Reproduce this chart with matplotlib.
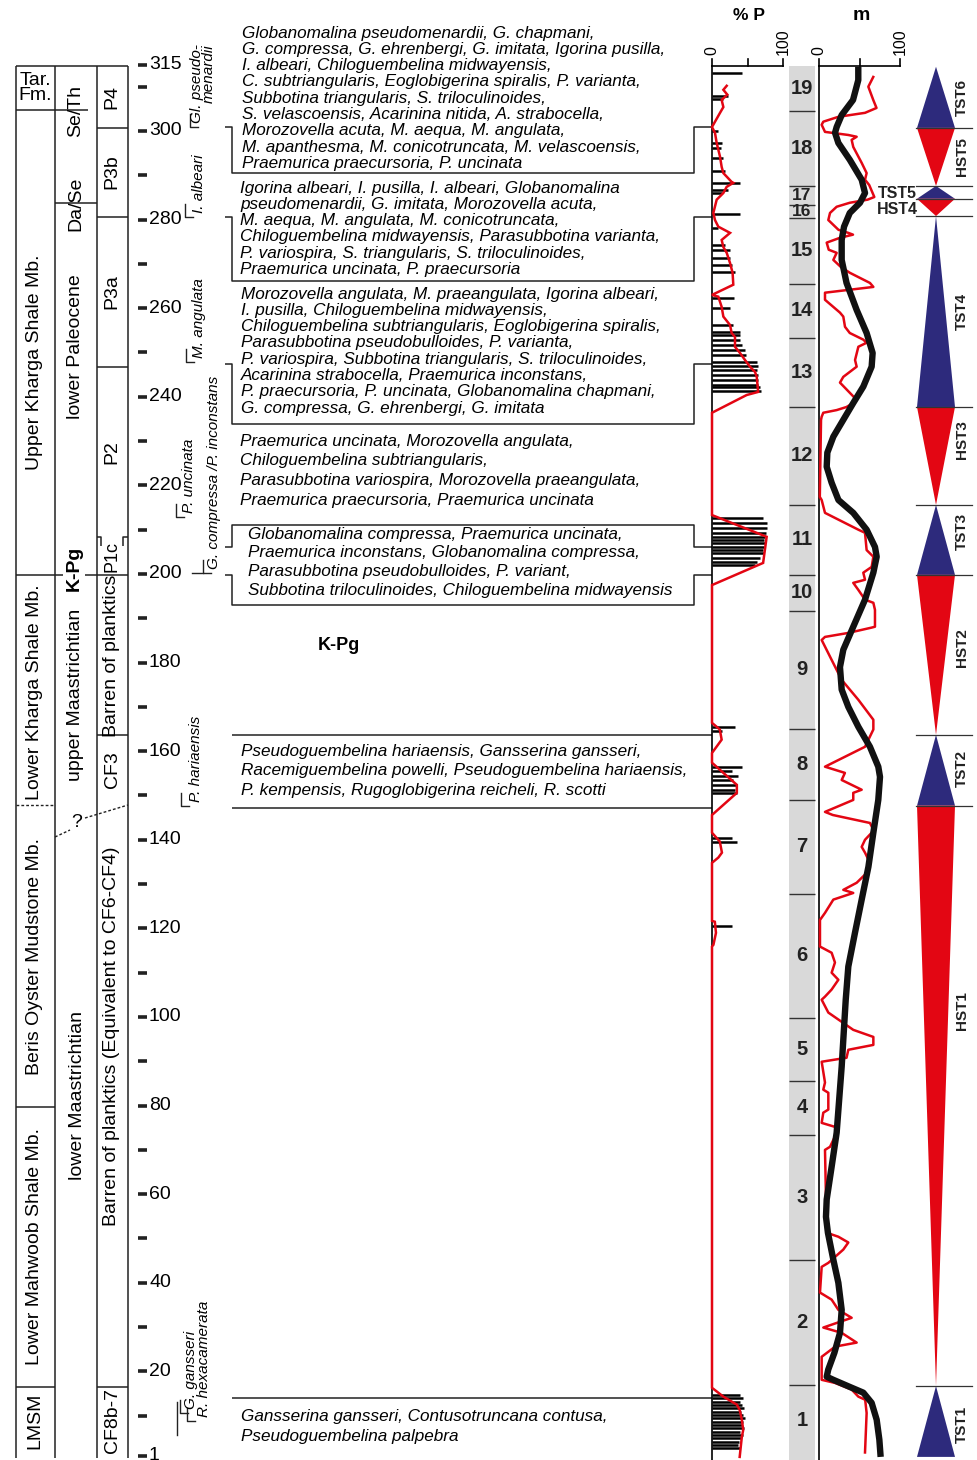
import numpy as np
import matplotlib.pyplot as plt

plt.rcParams['font.family'] = ['Liberation Sans', 'DejaVu Sans']

# vertical scale: metres above the base of the section
TOP = 329.57


def ypx(p):
    # layout helper: page row (from top) -> section height
    return TOP - p / 4.43


# ---- % planktics -------------------------------------------------------
p_bar_depth = [313.1, 307.9, 307.3, 300.0, 297.3, 296.2, 293.9, 291.0, 288.3, 286.7, 286.0,
               281.3, 278.1, 274.3, 273.2, 271.4, 269.8, 268.2, 262.3, 260.1, 256.2, 254.7,
               254.0, 252.9, 251.7, 250.6, 249.5, 247.9, 247.0, 246.1, 245.0, 243.8, 242.7,
               242.1, 241.4,
               212.7, 211.5, 210.4, 209.3, 208.4, 207.7, 207.0, 206.1, 205.4, 204.7, 203.6,
               202.7, 202.1,
               165.5, 164.6, 156.5, 155.6, 154.4, 153.5, 152.4, 151.3, 150.6,
               140.5, 139.6, 120.6,
               14.7, 14.0, 13.1, 12.5, 11.8, 10.9, 10.2, 9.5, 8.6, 7.9, 7.3, 6.4, 5.7, 5.0,
               4.1, 3.4, 2.8]
p_bar_val = [42, 22, 16, 9, 14, 12, 16, 19, 40, 23, 14,
             40, 9, 19, 26, 25, 28, 33, 31, 26, 30, 39,
             40, 40, 42, 47, 48, 63, 65, 63, 65, 65, 65,
             68, 69,
             72, 78, 77, 76, 75, 73, 75, 73, 72, 73, 68,
             63, 60,
             32, 14, 42, 28, 37, 30, 35, 33, 35,
             28, 35, 28,
             40, 44, 39, 42, 45, 41, 43, 46, 44, 42, 45, 40, 43, 41,
             38, 36, 39]

p_curve_depth = [310.2, 309.3, 308.2, 307.0, 305.4, 304.1, 300.9, 299.6, 297.3, 294.2, 291.9,
                 290.5, 288.5, 288.3, 287.4, 286.0, 284.5, 281.5, 279.9, 278.4, 277.0, 275.4,
                 273.8, 272.5, 270.2, 268.0, 265.3, 263.0, 262.6, 260.3, 258.1, 256.2, 254.4,
                 253.5, 251.3, 249.9, 248.3, 246.8, 245.6, 244.5, 241.1, 240.4, 236.4,
                 213.3, 208.4, 202.5, 197.5, 166.4, 164.9, 162.6, 159.6, 157.4, 152.4, 150.6,
                 145.6, 141.6, 139.6, 137.1, 136.0, 134.8, 121.7, 121.5, 119.0, 116.3, 115.9,
                 16.3, 14.3, 12.5, 11.3, 9.1, 6.8, 5.2, 0.7]
p_curve_val = [20.7, 16, 21.6, 13.6, 16, 11.3, 0, 4.2, 6.6, 11.3, 13.6,
               16, 27.7, 30, 20.7, 16, 6.6, 1.9, 4.2, 8.9, 25.4, 13.6,
               16, 20.7, 25.4, 29, 30, 0, 8.9, 13.6, 16, 25.4, 27.7,
               32.4, 32.4, 39.4, 46.5, 53.5, 60.6, 63, 65, 48.8, 0,
               0, 77, 72, 0, 0, 11, 13.6, 0, 0, 35, 35,
               0, 0, 11, 14, 9, 0, 0, 4, 5.6, 2, 0,
               0, 16, 35, 39, 42, 44, 42, 39]

# ---- m curve (red) and its trend (black) --------------------------------
m_depth = [312.2, 310.0, 307.0, 305.2, 304.1, 303.2, 302.1, 301.4, 299.8, 299.1, 298.7, 298.0,
           296.4, 292.8, 290.5, 289.0, 287.8, 285.1, 284.5, 283.8, 282.9, 281.5, 279.9, 277.7,
           277.0, 276.6, 275.9, 274.8, 273.2, 272.5, 270.9, 269.3, 268.0, 265.7, 264.8, 263.5,
           261.9, 260.3, 259.0, 258.1, 255.8, 254.4, 252.9, 252.2, 251.3, 248.3, 246.8, 244.5,
           243.2, 240.9, 239.3, 238.6, 237.7, 237.0, 236.4, 235.5, 234.8, 217.4,
           216.7, 213.8, 210.0, 209.3, 205.4, 203.9, 201.6, 200.3, 198.7, 198.0, 196.4, 194.2,
           193.5, 191.9, 188.1, 187.9, 186.7, 185.8, 185.1, 183.6, 176.1, 171.6, 167.1, 164.9,
           161.0, 156.5, 155.1, 153.5, 151.3, 150.6, 149.0, 146.3, 145.6, 143.8, 142.3, 141.6,
           140.0, 138.4, 137.1, 134.8, 132.5, 130.3, 128.7, 128.0, 126.5, 123.5, 121.9, 115.9,
           114.5, 112.3, 110.0, 108.4, 106.2, 104.6, 103.9, 101.0, 97.1, 95.5, 93.7, 92.6,
           90.8, 89.9, 85.2, 83.6, 82.9, 79.1, 78.4, 76.1, 75.2, 74.6, 70.7, 70.0, 51.3,
           50.4, 49.1, 47.5, 44.5, 43.6, 37.8, 36.2, 33.9, 32.1, 29.9, 28.7, 26.5, 25.6,
           23.3, 18.1, 17.4, 15.9, 14.3, 13.6, 10.6, 1.7]
m_val = [67, 60.9, 67, 71, 56.8, 23.9, 5.3, 3.3, 7.4, 36.2, 46.5, 40.3,
         42.3, 52.7, 58.8, 56.8, 62, 68.3, 60, 38, 21.8, 13.6, 11.5, 24,
         36.2, 42, 26, 9.5, 12, 21.8, 17.7, 27, 38, 62.9, 67.1, 7.4,
         7.4, 17.7, 25.9, 30, 32.1, 38, 54.7, 58.8, 48.6, 44.5, 46.5, 30,
         25.9, 38, 46.5, 42.3, 34, 21.8, 5.3, 3.3, 2.5, 1,
         3.3, 7.4, 48.6, 56.8, 58.8, 67.1, 65, 54.7, 56.8, 42.3, 48.6, 56.8,
         67.1, 69.1, 69.1, 65, 36.2, 7.4, 3.3, 7.4, 28, 48.6, 67.1, 67.1,
         56.8, 7.4, 32, 28, 52.7, 42.3, 42.3, 7.4, 17, 62.9, 67, 65,
         56.8, 52.7, 56.8, 62.9, 58.8, 46.5, 30, 42.3, 17.7, 7.4, 1.2, 1.2,
         15.6, 19.7, 15.6, 23.9, 15.6, 7.4, 3.3, 11.5, 42.3, 67.1, 67.1, 36.2,
         34, 3.3, 7.4, 5.3, 11.5, 11.5, 5.3, 3.3, 19.7, 23.9, 13.6, 7.4, 9.5,
         23.9, 36.2, 30, 11.5, 3.3, 1.2, 15.6, 23.9, 40.3, 5.3, 28, 46.5, 20,
         3.3, 3.3, 19.7, 40.3, 48.6, 57, 58.8, 56.8]

trend_depth = [314.5, 311.5, 307.0, 303.6, 300.9, 299.6, 297.3, 293.5, 289.0, 286.0, 283.8,
               281.5, 278.4, 275.4, 270.9, 265.7, 259.6, 254.4, 249.9, 246.8, 242.3, 238.6,
               234.8, 231.0, 227.4, 224.2, 220.6, 216.7, 213.8, 210.0, 206.1, 203.9, 200.3,
               194.2, 188.1, 182.9, 179.0, 173.9, 170.0, 165.5, 161.0, 156.5, 154.2, 149.0,
               141.6, 133.9, 126.5, 119.0, 111.4, 103.9, 88.8, 73.9, 66.2, 58.8, 54.9, 51.3,
               45.2, 40.0, 33.9, 28.7, 24.2, 20.4, 18.8, 18.1, 16.5, 15.2, 12.9, 9.1, 4.6, 0.7]
trend_val = [48.5, 48.5, 42, 28, 21.8, 19.8, 23.9, 38, 52.7, 56.8, 50.6,
             38, 30.9, 28, 28, 34, 46.5, 58.8, 66.2, 65, 54.7, 42.3,
             30, 17.7, 10.3, 9.5, 15.6, 24, 42.3, 58.8, 69.1, 71.2, 67.1,
             56.8, 42.3, 30, 25.9, 28, 36.2, 48.6, 62.9, 73.2, 75.3, 73.2,
             67.1, 61, 52.7, 44.4, 36.2, 33, 28, 21.8, 15.6, 9.5, 8.6, 11,
             17.7, 23.9, 28, 25.9, 19, 11.4, 9.5, 17.7, 38, 54.7, 65, 71.2, 74.5, 76.1]

# ---- lithological units 19..1 ------------------------------------------
unit_bounds = [314.7, 304.5, 287.6, 283.3, 280.4, 265.5, 253.3, 237.7, 215.6, 199.8, 191.7,
               165.1, 149.0, 127.8, 99.8, 85.6, 73.4, 45.2, 17.0, 0.7]
unit_names = ['19', '18', '17', '16', '15', '14', '13', '12', '11', '10', '9', '8', '7', '6',
              '5', '4', '3', '2', '1']

# ---- systems tracts ------------------------------------------------------
tract_names = ['TST6', 'HST5', 'TST5', 'HST4', 'TST4', 'HST3', 'TST3', 'HST2', 'TST2', 'HST1', 'TST1']
tract_top = [314.5, 300.7, 287.6, 284.7, 280.8, 237.7, 215.6, 199.8, 163.7, 147.7, 16.7]
tract_base = [300.7, 287.6, 284.7, 280.8, 237.7, 215.6, 199.8, 163.7, 147.7, 16.7, 0.7]
tract_label_y = [307.6, 294.2, 286.0, 282.3, 259.2, 230.4, 209.5, 183.3, 156.0, 101.5, 8.0]

depth_major = [315, 300, 280, 260, 240, 220, 200, 180, 160, 140, 120, 100, 80, 60, 40, 20, 1]
depth_minor = [310, 290, 270, 250, 230, 210, 190, 170, 150, 130, 110, 90, 70, 50, 30, 10]

RED = '#e30613'
BLUE = '#2d2a7c'

fig = plt.figure(figsize=(9.78, 14.6), dpi=100)
ax = fig.add_axes([0, 0, 1, 1])
ax.set_xlim(0, 978)
ax.set_ylim(0, TOP)
ax.axis('off')

lk = dict(color='#222222', lw=1.1, solid_capstyle='butt')

# ---- left stratigraphic table -------------------------------------------
for x in (16, 55, 97, 128):
    ax.plot([x, x], [ypx(66), ypx(1458)], **lk)
ax.plot([16, 128], [ypx(66), ypx(66)], **lk)
ax.plot([16, 88], [ypx(110), ypx(110)], **lk)
ax.plot([55, 97], [ypx(203), ypx(203)], **lk)
ax.plot([16, 128], [ypx(575), ypx(575)], **lk)
ax.plot([16, 55], [ypx(805), ypx(805)], color='#222222', lw=1, ls=(0, (2, 1.5)))
ax.plot([55, 70], [ypx(837), ypx(830)], color='#222222', lw=1, ls=(0, (2, 1.5)))
ax.plot([85, 128], [ypx(818), ypx(805)], color='#222222', lw=1, ls=(0, (2, 1.5)))
ax.text(77, ypx(822), '?', fontsize=14, ha='center', va='center')
for yy in (1107, 1387):
    ax.plot([16, 55], [ypx(yy), ypx(yy)], **lk)
for yy in (128, 217, 367, 735, 1387):
    ax.plot([97, 128], [ypx(yy), ypx(yy)], **lk)
# small frame around P1c
ax.plot([97, 101, 101], [ypx(537), ypx(537), ypx(546)], **lk)
ax.plot([128, 123, 123], [ypx(537), ypx(537), ypx(546)], **lk)

ax.text(35, ypx(88), 'Tar.\nFm.', fontsize=14, ha='center', va='center', linespacing=0.85)
col_text = [
    (35, 362, 'Upper Kharga Shale Mb.'), (35, 692, 'Lower Kharga Shale Mb.'),
    (35, 956, 'Beris Oyster Mudstone Mb.'), (35, 1246, 'Lower Mahwoob Shale Mb.'),
    (35, 1421, 'LMSM'),
    (76, 111, 'Se/Th'), (76, 204, 'Da/Se'), (76, 347, 'lower Paleocene'),
    (76, 695, 'upper Maastrichtian'), (77, 1095, 'lower Maastrichtian'),
    (112, 97, 'P4'), (112, 172, 'P3b'), (112, 292, 'P3a'), (112, 452, 'P2'),
    (112, 656, 'Barren of planktics'), (112, 770, 'CF3'),
    (112, 1036, 'Barren of planktics (Equivalent to CF6-CF4)'), (112, 1420, 'CF8b-7'),
]
for x, yy, s in col_text:
    ax.text(x, ypx(yy), s, fontsize=14, rotation=90, ha='center', va='center')
ax.text(112, ypx(556), 'P1c', fontsize=13, rotation=90, ha='center', va='center')
ax.text(74, ypx(568), 'K-Pg', fontsize=14, fontweight='bold', rotation=90, ha='center',
        va='center', bbox=dict(fc='white', ec='none', pad=1.5))

# ---- depth scale ------------------------------------------------------------
ax.hlines(depth_major + depth_minor, 138, 147, color='#222222', lw=2.6)
for d in depth_major:
    ax.text(149, d, str(d), fontsize=14, ha='left', va='center')

# ---- first-occurrence markers --------------------------------------------
markers = [
    (127, 190, 203, 'Gl. pseudo-\nmenardii'),
    (217, 185, 199, 'I. albeari'),
    (362, 186, 199, 'M. angulata'),
    (517, 176, 189, 'P. uncinata'),
    (573, 203, 214, 'G. compressa /P. inconstans'),
    (806, 181, 196, 'P. hariaensis'),
    (1413, 180, 191, 'G. gansseri'),
    (1421, 187, 204, 'R. hexacamerata'),
]
for yy, xl, xt, s in markers:
    ax.plot([xl, xl, xl + 8], [ypx(yy - 13), ypx(yy), ypx(yy)], color='#222222', lw=1)
    ax.text(xt, ypx(yy - 4), s, fontsize=11, style='italic', rotation=90,
            rotation_mode='anchor', ha='left', va='center', multialignment='right',
            linespacing=0.85)
ax.plot([192, 203], [ypx(573), ypx(573)], color='#222222', lw=1)
ax.plot([177, 177], [ypx(1402), ypx(1435)], color='#222222', lw=1)

# ---- assemblage lists -----------------------------------------------------
blocks = [
    (242, 33, 16.3, [
        'Globanomalina pseudomenardii, G. chapmani,',
        'G. compressa, G. ehrenbergi, G. imitata, Igorina pusilla,',
        'I. albeari, Chiloguembelina midwayensis,',
        'C. subtriangularis, Eoglobigerina spiralis, P. varianta,',
        'Subbotina triangularis, S. triloculinoides,',
        'S. velascoensis, Acarinina nitida, A. strabocella,',
        'Morozovella acuta, M. aequa, M. angulata,',
        'M. apanthesma, M. conicotruncata, M. velascoensis,',
        'Praemurica praecursoria, P. uncinata']),
    (240, 188, 16.3, [
        'Igorina albeari, I. pusilla, I. albeari, Globanomalina',
        'pseudomenardii, G. imitata, Morozovella acuta,',
        'M. aequa, M. angulata, M. conicotruncata,',
        'Chiloguembelina midwayensis, Parasubbotina varianta,',
        'P. variospira, S. triangularis, S. triloculinoides,',
        'Praemurica uncinata, P. praecursoria']),
    (241, 294, 16.3, [
        'Morozovella angulata, M. praeangulata, Igorina albeari,',
        'I. pusilla, Chiloguembelina midwayensis,',
        'Chiloguembelina subtriangularis, Eoglobigerina spiralis,',
        'Parasubbotina pseudobulloides, P. varianta,',
        'P. variospira, Subbotina triangularis, S. triloculinoides,',
        'Acarinina strabocella, Praemurica inconstans,',
        'P. praecursoria, P. uncinata, Globanomalina chapmani,',
        'G. compressa, G. ehrenbergi, G. imitata']),
    (240, 441, 19.7, [
        'Praemurica uncinata, Morozovella angulata,',
        'Chiloguembelina subtriangularis,',
        'Parasubbotina variospira, Morozovella praeangulata,',
        'Praemurica praecursoria, Praemurica uncinata']),
    (248, 534, 18.8, [
        'Globanomalina compressa, Praemurica uncinata,',
        'Praemurica inconstans, Globanomalina compressa,',
        'Parasubbotina pseudobulloides, P. variant,',
        'Subbotina triloculinoides, Chiloguembelina midwayensis']),
    (241, 751, 19.5, [
        'Pseudoguembelina hariaensis, Gansserina gansseri,',
        'Racemiguembelina powelli, Pseudoguembelina hariaensis,',
        'P. kempensis, Rugoglobigerina reicheli, R. scotti']),
    (241, 1416, 20.0, [
        'Gansserina gansseri, Contusotruncana contusa,',
        'Pseudoguembelina palpebra']),
]
for x, y0, step, lines in blocks:
    for i, s in enumerate(lines):
        ax.text(x, ypx(y0 + i * step), s, fontsize=12.3, style='italic', ha='left', va='center')

ax.text(339, ypx(645), 'K-Pg', fontsize=13, fontweight='bold', ha='center', va='center')

# bracket frames joining each list to the % P column
frames = [(127, 173), (217, 281), (364, 424), (547, 525), (575, 605)]
for yc, yo in frames:
    ax.plot([225, 232, 232, 694, 694, 712],
            [ypx(yc), ypx(yc), ypx(yo), ypx(yo), ypx(yc), ypx(yc)], **lk)
for yy in (735, 808, 1398):
    ax.plot([232, 712], [ypx(yy), ypx(yy)], **lk)

# ---- % P panel --------------------------------------------------------------
def panel(x0, x1):
    a = fig.add_axes([x0 / 978, 0, (x1 - x0) / 978, 1])
    a.set_xlim(0, 100)
    a.set_ylim(0, TOP)
    a.axis('off')
    return a


axp = panel(712, 783)
axp.plot([0, 0], [0, ypx(66)], color='black', lw=1.2, clip_on=False)
axp.plot([0, 100], [ypx(66), ypx(66)], color='black', lw=1.2, clip_on=False)
for t in (0, 50, 100):
    axp.plot([t, t], [ypx(66), ypx(59)], color='black', lw=1.2, clip_on=False)
axp.text(0, ypx(55), '0', fontsize=11.5, rotation=90, rotation_mode='anchor', ha='left', va='center')
axp.text(100, ypx(55), '100', fontsize=11.5, rotation=90, rotation_mode='anchor', ha='left', va='center')
axp.text(52, ypx(15), '% P', fontsize=12.5, fontweight='bold', ha='center', va='center')
axp.hlines(p_bar_depth, 0, p_bar_val, color='black', lw=1.8, clip_on=False)
axp.plot(p_curve_val, p_curve_depth, color=RED, lw=1.8, clip_on=False, solid_joinstyle='miter')

# ---- unit column -------------------------------------------------------------
ax.fill_between([789, 815], ypx(1460), ypx(66), color='#d9d9d9', lw=0)
ax.hlines(unit_bounds[1:-1], 789, 815, color='#333333', lw=1)
for i, s in enumerate(unit_names):
    mid = (unit_bounds[i] + unit_bounds[i + 1]) / 2
    # the two thin units get a smaller number
    size = 12.5 if s in ('17', '16') else 14.5
    ax.text(802, mid, s, fontsize=size, fontweight='bold', ha='center', va='center', color='#222222')

# ---- m panel -------------------------------------------------------------------
axm = panel(819, 900)
axm.plot([0, 0], [0, ypx(66)], color='black', lw=1.2, clip_on=False)
axm.plot([0, 100], [ypx(66), ypx(66)], color='black', lw=1.2, clip_on=False)
for t in (0, 50, 100):
    axm.plot([t, t], [ypx(66), ypx(59)], color='black', lw=1.2, clip_on=False)
axm.text(0, ypx(55), '0', fontsize=11.5, rotation=90, rotation_mode='anchor', ha='left', va='center')
axm.text(100, ypx(55), '100', fontsize=11.5, rotation=90, rotation_mode='anchor', ha='left', va='center')
axm.text(52, ypx(15), 'm', fontsize=14, fontweight='bold', ha='center', va='center')
axm.plot(m_val, m_depth, color=RED, lw=1.8, clip_on=False)
axm.plot(trend_val, trend_depth, color='#111111', lw=4.6, clip_on=False, solid_capstyle='butt')

# ---- systems tracts ------------------------------------------------------------
for d in tract_base[:-1]:
    ax.plot([916, 972], [d, d], color='#333333', lw=0.9)
for name, top, base, ly in zip(tract_names, tract_top, tract_base, tract_label_y):
    if name.startswith('TST'):
        ax.fill([936, 917, 955], [top, base, base], color=BLUE, lw=0)
    else:
        ax.fill([917, 955, 936], [top, top, base], color=RED, lw=0)
    if name in ('TST5', 'HST4'):
        ax.text(897, ly, name, fontsize=11.5, fontweight='bold', ha='center', va='center',
                color='#222222')
    else:
        ax.text(962, ly, name, fontsize=11, fontweight='bold', rotation=90, ha='center',
                va='center', color='#222222')

fig.savefig('out.png', dpi=100)
